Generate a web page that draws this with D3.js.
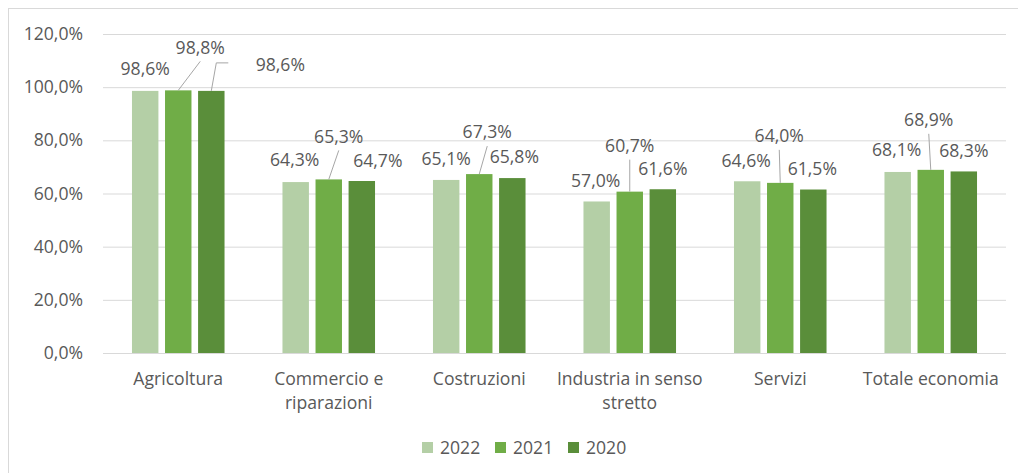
<!DOCTYPE html>
<html>
<head>
<meta charset="utf-8">
<script src="https://cdn.jsdelivr.net/npm/d3@7"></script>
<style>
  html, body { margin: 0; padding: 0; background: #fff; }
  svg { display: block; font-family: "Open Sans", sans-serif; }
</style>
</head>
<body>
<div id="chart"></div>
<script>
const categories = ["Agricoltura", "Commercio e riparazioni", "Costruzioni", "Industria in senso stretto", "Servizi", "Totale economia"];
const seriesNames = ["2022", "2021", "2020"];
const seriesColors = ["#b4cfa6", "#70ad47", "#5a8e3a"];
const values2022 = [98.6, 64.3, 65.1, 57.0, 64.6, 68.1];
const values2021 = [98.8, 65.3, 67.3, 60.7, 64.0, 68.9];
const values2020 = [98.6, 64.7, 65.8, 61.6, 61.5, 68.3];
const yTicks = [0, 20, 40, 60, 80, 100, 120];

// manual label placement (like the dragged labels in the source chart): [dx, dy] from bar top centre
const nudge2022 = [[0, -22], [-1, -22], [0, -21], [-1, -21], [-1, -21], [-1, -22]];
const nudge2021 = [[22, -43], [10, -43], [8, -42], [0, -46], [-1, -47], [-2, -50]];
const nudge2020 = [[69, -26], [16, -20], [2, -21], [0, -21], [-1, -21], [0, -21]];
const leader2021 = [true, true, true, true, true, true];
const leader2020 = [true, false, false, false, false, false];

const allValues = [values2022, values2021, values2020];
const allNudges = [nudge2022, nudge2021, nudge2020];
const allLeaders = [[false, false, false, false, false, false], leader2021, leader2020];

const W = 1018, H = 473;
const TEXT = "#595959";
const GRID = "#d9d9d9";
const FS = 17.6;

const it = d3.formatLocale({ decimal: ",", thousands: ".", grouping: [3], currency: ["", "€"] });
const pct = it.format(".1%");

const svg = d3.select("#chart").append("svg").attr("width", W).attr("height", H);

svg.append("rect").attr("x", 8.5).attr("y", 8.5).attr("width", W + 20).attr("height", H + 20)
  .attr("fill", "#fff").attr("stroke", GRID);

const plot = { left: 103, right: 1006, top: 34, bottom: 353 };

const x0 = d3.scaleBand().domain(categories).range([plot.left, plot.right])
  .paddingInner(0.385).paddingOuter(0.1925);
const x1 = d3.scaleBand().domain(seriesNames).range([0, x0.bandwidth()]).paddingInner(0.2);
const y = d3.scaleLinear().domain([0, 120]).range([plot.bottom, plot.top]);

// gridlines + y labels
const yAxis = svg.append("g").attr("transform", `translate(${plot.left},0)`)
  .call(d3.axisLeft(y).tickValues(yTicks).tickFormat(d => pct(d / 100))
    .tickSize(-(plot.right - plot.left)).tickPadding(20));
yAxis.select(".domain").remove();
yAxis.selectAll(".tick line").attr("stroke", GRID).attr("stroke-width", 1);
yAxis.selectAll(".tick text").attr("fill", TEXT).attr("font-size", FS)
  .attr("font-family", "Open Sans");

// x axis labels
const xAxis = svg.append("g").attr("transform", `translate(0,${plot.bottom})`)
  .call(d3.axisBottom(x0).tickSize(0).tickPadding(0));
xAxis.select(".domain").remove();
xAxis.selectAll(".tick text")
  .attr("fill", TEXT).attr("font-size", FS).attr("font-family", "Open Sans")
  .attr("y", 0).attr("dy", null)
  .each(function(d) { wrap(d3.select(this), d, x0.step()); });

function wrap(text, str, width) {
  const words = str.split(" ");
  const lines = [];
  let line = [];
  text.text(null);
  const probe = text.append("tspan");
  words.forEach(w => {
    const test = line.concat([w]).join(" ");
    probe.text(test);
    if (probe.node().getComputedTextLength() > width && line.length) {
      lines.push(line.join(" "));
      line = [w];
    } else {
      line.push(w);
    }
  });
  lines.push(line.join(" "));
  probe.remove();
  lines.forEach((l, i) => {
    text.append("tspan").attr("x", 0).attr("y", 32 + i * 24).text(l);
  });
}

// bars
const groups = svg.append("g").selectAll("g").data(categories).join("g")
  .attr("transform", d => `translate(${x0(d)},0)`);

seriesNames.forEach((s, si) => {
  groups.append("rect")
    .attr("x", x1(s))
    .attr("width", x1.bandwidth())
    .attr("y", (d, ci) => y(allValues[si][ci]))
    .attr("height", (d, ci) => y(0) - y(allValues[si][ci]))
    .attr("fill", seriesColors[si]);
});

// data labels + leader lines
const labels = svg.append("g");
seriesNames.forEach((s, si) => {
  categories.forEach((c, ci) => {
    const v = allValues[si][ci];
    const bx = x0(c) + x1(s) + x1.bandwidth() / 2;
    const by = y(v);
    const [dx, dy] = allNudges[si][ci];
    const lx = bx + dx, ly = by + dy;
    if (allLeaders[si][ci]) {
      let pts;
      if (dx > 40) {
        pts = [[bx, by], [bx + 5, ly - 2], [bx + 17, ly - 2]];
      } else {
        pts = [[bx, by], [lx, ly + 14]];
      }
      labels.append("path")
        .attr("d", d3.line()(pts))
        .attr("fill", "none").attr("stroke", "#a6a6a6").attr("stroke-width", 1);
    }
    labels.append("text")
      .attr("x", lx).attr("y", ly).attr("dy", "0.36em")
      .attr("text-anchor", "middle")
      .attr("fill", TEXT).attr("font-size", FS)
      .text(pct(v / 100));
  });
});

// legend
const legend = svg.append("g").attr("transform", "translate(422,442)");
seriesNames.forEach((s, i) => {
  const g = legend.append("g").attr("transform", `translate(${i * 73},0)`);
  g.append("rect").attr("width", 11).attr("height", 11).attr("fill", seriesColors[i]);
  g.append("text").attr("x", 18).attr("y", 5.5).attr("dy", "0.36em")
    .attr("fill", TEXT).attr("font-size", FS).text(s);
});
</script>
</body>
</html>
